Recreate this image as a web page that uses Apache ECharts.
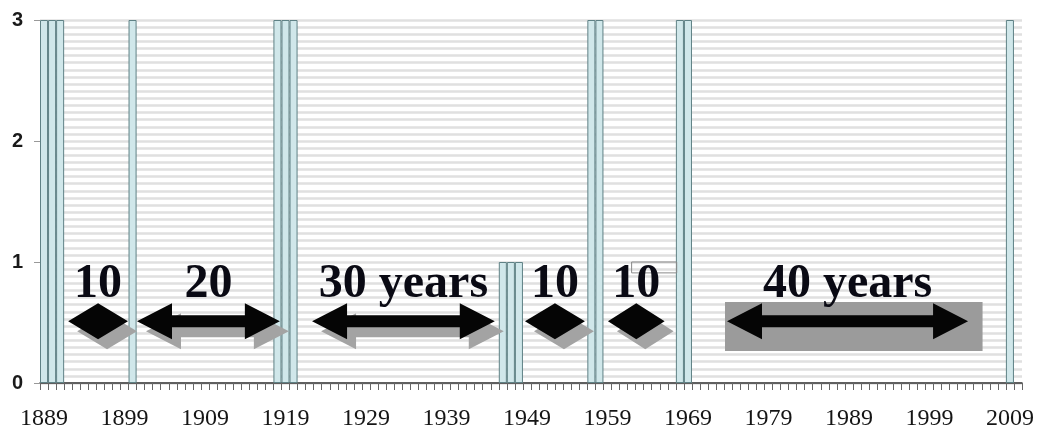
<!DOCTYPE html>
<html>
<head>
<meta charset="utf-8">
<script src="https://cdn.jsdelivr.net/npm/echarts@6/dist/echarts.min.js"></script>
<style>
  html, body { margin: 0; padding: 0; background: #ffffff; }
  #chart { width: 1037px; height: 431px; }
</style>
</head>
<body>
<div id="chart"></div>
<script>
// Year range shown on the category axis
const firstYear = 1889;
const lastYear = 2010;
const years = [];
for (let y = firstYear; y <= lastYear; y++) years.push(String(y));

// Years with events and how many occurred in each
const eventYears  = [1889, 1890, 1891, 1900, 1918, 1919, 1920, 1946, 1947, 1948, 1957, 1958, 1968, 1969, 2009];
const eventCounts = [3, 3, 3, 3, 3, 3, 3, 1, 1, 1, 3, 3, 3, 3, 3];

// Y axis tick labels
const yTicks = [0, 1, 2, 3];

// Gap annotations: label, span start and end (in years)
const spanLabels = ['10', '20', '30 years', '10', '10', '40 years'];
const spanFrom   = [1892.0, 1900.55, 1922.3, 1948.75, 1959.06, 1973.85];
const spanTo     = [1899.43, 1918.3, 1945.0, 1956.2, 1966.1, 2003.8];
const spanLevel  = 0.51;   // arrow height on the value scale
const labelLevel = 0.81;   // label height on the value scale

// Shaded panel behind the last arrow: [from year, to year, low value, high value]
const panel = [1973.6, 2005.6, 0.265, 0.67];
// Thin outlined box near 1962–1967: [from year, to year, low value, high value]
const outline = [1962.0, 1967.6, 0.91, 1.0];

const barData = years.map(y => {
  const i = eventYears.indexOf(Number(y));
  return i >= 0 ? eventCounts[i] : null;
});

const chart = echarts.init(document.getElementById('chart'), null, { renderer: 'canvas' });

// Pixel x for a (possibly fractional) year, using the category axis scale
function xOf(api, year) {
  const x0 = api.coord([0, 0])[0];
  const bw = api.size([1, 0])[0];
  return x0 + (year - firstYear) * bw;
}
function yOf(api, v) {
  return api.coord([0, v])[1];
}

function arrowPoints(x1, x2, y) {
  const head = Math.min(35, (x2 - x1) / 2);
  const hh = 18, sh = 6;
  return [
    [x1, y], [x1 + head, y - hh], [x1 + head, y - sh], [x2 - head, y - sh],
    [x2 - head, y - hh], [x2, y], [x2 - head, y + hh], [x2 - head, y + sh],
    [x1 + head, y + sh], [x1 + head, y + hh]
  ];
}

const option = {
  backgroundColor: '#ffffff',
  animation: false,
  grid: { left: 40, right: 15, top: 20, bottom: 48 },
  xAxis: {
    type: 'category',
    data: years,
    boundaryGap: true,
    axisLine: { show: true, lineStyle: { color: '#333', width: 1.5 } },
    axisTick: { show: true, interval: 0, length: 7, lineStyle: { color: '#666', width: 1 } },
    axisLabel: {
      interval: (idx, val) => (Number(val) - firstYear) % 10 === 0,
      margin: 24,
      fontFamily: '"Liberation Serif", serif',
      fontSize: 24,
      color: '#151515'
    },
    splitLine: { show: false }
  },
  yAxis: {
    type: 'value',
    min: yTicks[0],
    max: yTicks[yTicks.length - 1],
    interval: 1,
    axisLine: { show: false },
    axisTick: { show: true, length: 6, lineStyle: { color: '#999' } },
    axisLabel: {
      margin: 17,
      fontFamily: '"Liberation Sans", Arial, sans-serif',
      fontWeight: 'bold',
      fontSize: 20,
      color: '#1a1a1a'
    },
    splitLine: { show: true, lineStyle: { color: '#e0e0e0', width: 2.5 } },
    minorTick: { show: false, splitNumber: 17 },
    minorSplitLine: { show: true, lineStyle: { color: '#e0e0e0', width: 2.5 } }
  },
  series: [
    {
      type: 'bar',
      data: barData,
      barWidth: '100%',
      itemStyle: { color: '#d0e7ea', borderColor: '#5f8185', borderWidth: 1 },
      z: 2
    },
    {
      // outlined box near the 1960s
      type: 'custom',
      data: [[0, 0]],
      z: 3,
      renderItem: (params, api) => {
        const x1 = xOf(api, outline[0]), x2 = xOf(api, outline[1]);
        const yTop = yOf(api, outline[3]), yBot = yOf(api, outline[2]);
        return {
          type: 'rect',
          shape: { x: x1, y: yTop, width: x2 - x1, height: yBot - yTop },
          style: { fill: null, stroke: '#8a8a8a', lineWidth: 1 }
        };
      }
    },
    {
      // gap arrows with their labels
      type: 'custom',
      data: spanLabels.map((_, i) => [i, 0]),
      z: 5,
      renderItem: (params, api) => {
        const i = params.dataIndex;
        const x1 = xOf(api, spanFrom[i]);
        const x2 = xOf(api, spanTo[i]);
        const y = yOf(api, spanLevel);
        const children = [];
        const last = i === spanLabels.length - 1;
        if (last) {
          const px1 = xOf(api, panel[0]), px2 = xOf(api, panel[1]);
          const pyT = yOf(api, panel[3]), pyB = yOf(api, panel[2]);
          children.push({
            type: 'rect',
            shape: { x: px1, y: pyT, width: px2 - px1, height: pyB - pyT },
            style: { fill: '#9b9b9b' }
          });
        } else {
          children.push({
            type: 'polygon',
            shape: { points: arrowPoints(x1, x2, y).map(p => [p[0] + 9, p[1] + 10]) },
            style: { fill: '#a3a3a3' }
          });
        }
        children.push({
          type: 'polygon',
          shape: { points: arrowPoints(x1, x2, y) },
          style: { fill: '#050505' }
        });
        children.push({
          type: 'text',
          style: {
            text: spanLabels[i],
            x: (x1 + x2) / 2,
            y: yOf(api, labelLevel),
            align: 'center',
            verticalAlign: 'middle',
            font: 'bold 48px "Liberation Serif", serif',
            fill: '#0a0a14'
          }
        });
        return { type: 'group', children };
      }
    }
  ]
};

chart.setOption(option);
</script>
</body>
</html>
